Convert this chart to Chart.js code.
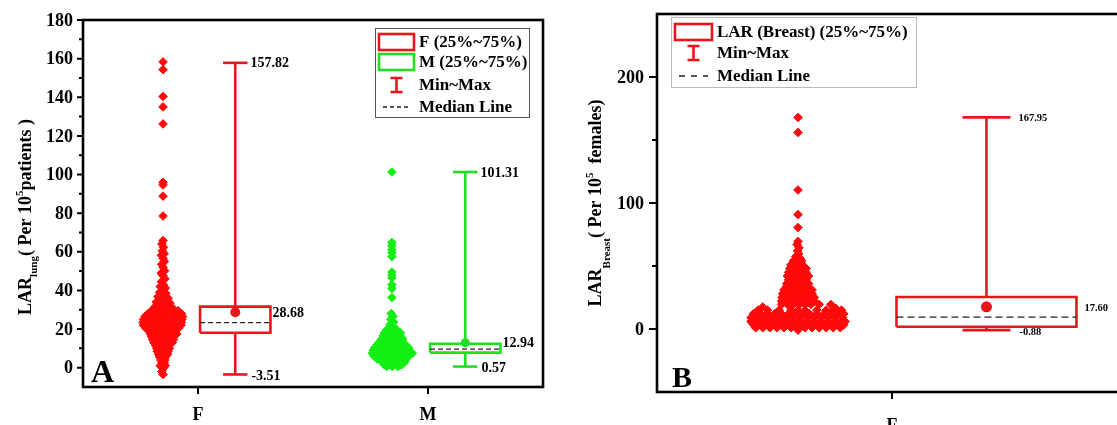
<!DOCTYPE html>
<html>
<head>
<meta charset="utf-8">
<script src="https://cdn.jsdelivr.net/npm/chart.js@4"></script>
<style>
html, body { margin: 0; padding: 0; background: #fff; overflow: hidden; width: 1117px; height: 425px; }
#wa { position: absolute; left: 0; top: 0; }
#wb { position: absolute; left: 560px; top: 0; }
</style>
</head>
<body>
<div id="wa"><canvas id="chartA" width="560" height="425"></canvas></div>
<div id="wb"><canvas id="chartB" width="580" height="425"></canvas></div>
<script>
/* ------------------------------- datos A ------------------------------- */
const lungCategories = ['F', 'M'];
const lungMin = [-3.51, 0.57];
const lungQ1 = [18.1, 7.8];
const lungMedian = [23.3, 9.6];
const lungQ3 = [31.6, 12.4];
const lungMax = [157.82, 101.31];
const lungMean = [28.68, 12.94];
const lungTicks = [0, 20, 40, 60, 80, 100, 120, 140, 160, 180];
const lungMinorTicks = [10, 30, 50, 70, 90, 110, 130, 150, 170];

// [desplazamiento horizontal, valor]
const lungPointsF = [
  [0,158.3],[0,154.3],[0,140.4],[0,135.0],[0,126.2],[0,96.0],[0,94.6],[0,88.8],[0,78.5],
  [0,65.8],[-0.005,64.0],[0.002,62.3],[-0.003,60.5],[0.005,59.0],[-0.007,58.2],[0,56.6],[0.006,55.0],[-0.006,53.5],[0,52.0],[0.007,50.2],[-0.008,49.0],[0,47.6],[0.008,46.0],[-0.007,44.5],[0.002,43.0],[-0.012,42.0],[0.01,41.2],[-0.003,40.0],
  [-0.015,39.0],[0.012,38.5],[0,37.6],[-0.022,36.8],[0.022,36.0],[-0.007,35.4],[0.008,34.8],[-0.03,34.0],[0.03,33.5],[-0.015,33.0],[0.015,32.4],[0,31.8],[-0.038,31.2],[0.04,31.0],[-0.022,30.4],[0.022,30.2],
  [-0.05,29.5],[-0.02,29.5],[0.01,29.5],[0.04,29.5],[0.065,29.5],
  [-0.065,28],[-0.035,28],[-0.005,28],[0.025,28],[0.055,28],[0.08,28],
  [-0.078,26.5],[-0.05,26.5],[-0.02,26.5],[0.01,26.5],[0.04,26.5],[0.07,26.5],[0.085,26.5],
  [-0.085,25],[-0.06,25],[-0.03,25],[0,25],[0.03,25],[0.06,25],[0.082,25],
  [-0.087,23.5],[-0.06,23.5],[-0.032,23.5],[-0.003,23.5],[0.025,23.5],[0.055,23.5],[0.08,23.5],
  [-0.085,22],[-0.055,22],[-0.025,22],[0.005,22],[0.035,22],[0.065,22],[0.078,22],
  [-0.075,20.5],[-0.05,20.5],[-0.02,20.5],[0.01,20.5],[0.04,20.5],[0.068,20.5],
  [-0.06,19],[-0.03,19],[0,19],[0.03,19],[0.055,19],
  [-0.055,17.5],[-0.025,17.5],[0.005,17.5],[0.035,17.5],[0.06,17.5],
  [-0.05,16],[-0.02,16],[0.01,16],[0.04,16],
  [-0.045,14.5],[-0.015,14.5],[0.015,14.5],[0.045,14.5],
  [-0.04,13],[-0.01,13],[0.02,13],[0.04,13],
  [-0.032,11.5],[-0.005,11.5],[0.022,11.5],
  [-0.028,10],[0,10],[0.028,10],
  [-0.025,8.5],[0.002,8.5],[0.022,8.5],
  [-0.02,7],[0.005,7],[0.02,7],
  [-0.015,5.5],[0.01,5.5],
  [-0.01,4],[0.008,4],[-0.005,2.5],[0.005,2.5],[-0.012,1],[0.01,1],[0,-0.5],[-0.005,-2],[0,-3.5]
];

const lungPointsM = [
  [0,101.3],[0,64.8],[0,63.0],[0,61.0],[0,59.5],[0,57.5],[0,49.5],[0,48.0],[0,46.5],[0,43.0],[0,41.0],[0,36.3],
  [-0.003,28.0],[0.005,26.5],[-0.005,25.0],[0.007,23.6],[-0.008,22.3],[0.009,21.0],
  [-0.023,19.5],[0.002,19.5],[0.022,19.5],
  [-0.033,18],[-0.008,18],[0.017,18],[0.037,18],
  [-0.038,16.5],[-0.013,16.5],[0.012,16.5],[0.035,16.5],
  [-0.043,15],[-0.018,15],[0.007,15],[0.032,15],[0.047,15],
  [-0.053,13.5],[-0.028,13.5],[-0.003,13.5],[0.022,13.5],[0.047,13.5],
  [-0.063,12],[-0.038,12],[-0.013,12],[0.012,12],[0.037,12],[0.057,12],
  [-0.073,10.5],[-0.048,10.5],[-0.023,10.5],[0.002,10.5],[0.027,10.5],[0.052,10.5],[0.072,10.5],
  [-0.081,9],[-0.053,9],[-0.028,9],[-0.003,9],[0.022,9],[0.047,9],[0.077,9],
  [-0.085,7.5],[-0.058,7.5],[-0.033,7.5],[-0.008,7.5],[0.017,7.5],[0.042,7.5],[0.067,7.5],[0.089,7.5],
  [-0.078,6],[-0.053,6],[-0.028,6],[-0.003,6],[0.022,6],[0.047,6],[0.072,6],
  [-0.063,4.5],[-0.038,4.5],[-0.013,4.5],[0.012,4.5],[0.037,4.5],[0.062,4.5],
  [-0.043,3],[-0.018,3],[0.007,3],[0.032,3],[0.057,3],
  [-0.033,1.5],[-0.008,1.5],[0.017,1.5],[0.042,1.5],
  [-0.023,0.6],[0.002,0.6],[0.027,0.6]
];

/* ------------------------------- datos B ------------------------------- */
const breastCategories = ['F'];
const breastMin = [-0.88];
const breastQ1 = [1.8];
const breastMedian = [9.5];
const breastQ3 = [25.4];
const breastMax = [167.95];
const breastMean = [17.60];
const breastTicks = [0, 100, 200];
const breastMinorTicks = [50, 150];

const breastPoints = [
  [0,167.9],[0,156.0],[0,110.3],[0,90.8],[0,80.5],
  [0,69.5],[-0.004,67.0],[0.004,64.5],[-0.002,62.0],[0.003,59.5],[-0.01,57.5],[0.009,56.0],
  [-0.02,54],[0.015,54],[-0.03,51],[-0.005,51],[0.02,51],[-0.035,48],[-0.01,48],[0.015,48],[0.035,48],
  [-0.04,45],[-0.015,45],[0.01,45],[0.035,45],[-0.045,42],[-0.02,42],[0.005,42],[0.03,42],[0.045,42],
  [-0.04,39],[-0.015,39],[0.01,39],[0.035,39],[-0.048,36],[-0.025,36],[0,36],[0.025,36],[0.045,36],
  [-0.05,33.5],[-0.03,33.5],[-0.005,33.5],[0.02,33.5],[0.04,33.5],
  [-0.06,31],[-0.035,31],[-0.01,31],[0.015,31],[0.04,31],[0.06,31],
  [-0.065,28],[-0.04,28],[-0.015,28],[0.01,28],[0.035,28],[0.06,28],
  [-0.068,25],[-0.045,25],[-0.02,25],[0.005,25],[0.03,25],[0.055,25],[0.07,25],
  [-0.07,22],[-0.045,22],[-0.02,22],[0.005,22],[0.03,22],[0.055,22],[0.07,22],
  [-0.07,19.5],[-0.045,19.5],[-0.02,19.5],[0.005,19.5],[0.03,19.5],[0.055,19.5],[0.09,19.5],[0.14,19.5],
  [-0.15,17.5],[0.16,16.5],[0.18,14],
  [-0.17,15],[-0.13,15],[-0.08,15],[-0.03,15],[0,15],[0.03,15],[0.08,15],[0.12,15],[0.15,15],[0.185,15],
  [-0.19,12],[-0.16,12],[-0.13,12],[-0.10,12],[-0.07,12],[-0.04,12],[-0.01,12],[0.02,12],[0.05,12],[0.08,12],[0.11,12],[0.14,12],[0.17,12],[0.195,12],
  [-0.20,9],[-0.17,9],[-0.14,9],[-0.11,9],[-0.08,9],[-0.05,9],[-0.02,9],[0.01,9],[0.04,9],[0.07,9],[0.10,9],[0.13,9],[0.16,9],[0.19,9],
  [-0.20,6],[-0.175,6],[-0.145,6],[-0.115,6],[-0.085,6],[-0.055,6],[-0.025,6],[0.005,6],[0.035,6],[0.065,6],[0.095,6],[0.125,6],[0.155,6],[0.185,6],[0.20,6],
  [-0.19,3.5],[-0.16,3.5],[-0.13,3.5],[-0.10,3.5],[-0.07,3.5],[-0.04,3.5],[-0.01,3.5],[0.02,3.5],[0.05,3.5],[0.08,3.5],[0.11,3.5],[0.14,3.5],[0.17,3.5],[0.195,3.5],
  [-0.18,1],[-0.15,1],[-0.12,1],[-0.09,1],[-0.06,1],[-0.03,1],[0,1],[0.03,1],[0.06,1],[0.09,1],[0.12,1],[0.15,1],[0.18,1],
  [0,-0.88]
];

/* ------------------------------- estilos ------------------------------- */
const SERIF = '"Liberation Serif", "DejaVu Serif", serif';
const RED = '#e8161b', RED_PT = '#ff0a0a';
const GREEN = '#22dd22', GREEN_PT = '#14ee14';

function font(size) { return `bold ${size}px ${SERIF}`; }

function puntos(lista, centro, color) {
  return {
    data: lista.map(p => ({ x: centro + p[0], y: p[1] })),
    backgroundColor: color, borderColor: color, borderWidth: 1,
    pointStyle: 'rectRot', pointRadius: 4.3
  };
}

function linea(pts, color, ancho, dash) {
  return {
    data: pts, showLine: true, pointRadius: 0, fill: false, tension: 0,
    borderColor: color, borderWidth: ancho, borderDash: dash || [], borderCapStyle: 'butt'
  };
}

// caja, bigotes, mediana y media de una serie
function caja(xc, half, cap, lo, q1, med, q3, hi, mean, color, meanR, dash) {
  return [
    { data: [{ x: xc, y: mean }], backgroundColor: color, borderWidth: 0, pointStyle: 'circle', pointRadius: meanR },
    linea([{ x: xc - half, y: med }, { x: xc + half, y: med }], '#222', 1.3, dash),
    linea([{ x: xc - half, y: q1 }, { x: xc + half, y: q1 }, { x: xc + half, y: q3 }, { x: xc - half, y: q3 }, { x: xc - half, y: q1 }], color, 2.6),
    linea([{ x: xc, y: q3 }, { x: xc, y: hi }], color, 2.6),
    linea([{ x: xc, y: lo }, { x: xc, y: q1 }], color, 2.6),
    linea([{ x: xc - cap, y: hi }, { x: xc + cap, y: hi }], color, 2.6),
    linea([{ x: xc - cap, y: lo }, { x: xc + cap, y: lo }], color, 2.6)
  ];
}

function tituloY(ctx, cx, cy, partes) {
  ctx.save();
  ctx.translate(cx, cy);
  ctx.rotate(-Math.PI / 2);
  let total = 0;
  partes.forEach(r => { ctx.font = font(r.size); r.w = ctx.measureText(r.text).width; total += r.w; });
  let x = -total / 2;
  ctx.textAlign = 'left';
  ctx.textBaseline = 'alphabetic';
  partes.forEach(r => { ctx.font = font(r.size); ctx.fillText(r.text, x, r.dy || 0); x += r.w; });
  ctx.restore();
}

function panelPlugin(p) {
  return {
    id: 'panel',
    afterDraw(chart) {
      const ctx = chart.ctx, a = chart.chartArea, xs = chart.scales.x, ys = chart.scales.y;
      ctx.save();
      ctx.fillStyle = '#000';
      ctx.strokeStyle = '#000';
      // marco
      ctx.lineWidth = 2.6;
      ctx.strokeRect(a.left, a.top, a.right - a.left, a.bottom - a.top);
      // marcas del eje y
      ctx.lineWidth = 2;
      ctx.beginPath();
      p.yTicks.forEach(v => { const y = ys.getPixelForValue(v); ctx.moveTo(a.left - p.major, y); ctx.lineTo(a.left, y); });
      p.yMinor.forEach(v => { const y = ys.getPixelForValue(v); ctx.moveTo(a.left - p.minor, y); ctx.lineTo(a.left, y); });
      p.catX.forEach(v => { const x = xs.getPixelForValue(v); ctx.moveTo(x, a.bottom); ctx.lineTo(x, a.bottom + 7); });
      ctx.stroke();
      ctx.font = font(p.tickSize);
      ctx.textAlign = 'right';
      ctx.textBaseline = 'middle';
      p.yTicks.forEach(v => ctx.fillText(String(v), a.left - p.labelGap, ys.getPixelForValue(v) + 1));
      ctx.textAlign = 'center';
      ctx.textBaseline = 'alphabetic';
      p.cats.forEach((c, i) => ctx.fillText(c, xs.getPixelForValue(p.catX[i]), p.catBaseline));
      // titulo y letra
      tituloY(ctx, p.titleX, p.titleY, p.title);
      ctx.font = font(p.letterSize);
      ctx.textAlign = 'left';
      ctx.fillText(p.letter, p.letterX, a.bottom - 5);
      // etiquetas de valores
      ctx.font = font(p.valSize);
      ctx.textBaseline = 'middle';
      p.boxes.forEach(b => {
        const xc = xs.getPixelForValue(b.x + b.cap) + p.valGap;
        const xb = xs.getPixelForValue(b.x + b.half) + p.meanGap;
        ctx.fillText(b.hi.toFixed(2), xc, ys.getPixelForValue(b.hi) + 1);
        ctx.fillText(b.lo.toFixed(2), xc + 1, ys.getPixelForValue(b.lo) + 2);
        ctx.fillText(b.mean.toFixed(2), xb, ys.getPixelForValue(b.mean) + 1);
      });
      // leyenda
      const L = p.legend;
      ctx.lineWidth = 1;
      ctx.strokeStyle = L.border;
      ctx.strokeRect(L.x + 0.5, L.y + 0.5, L.w, L.h);
      ctx.font = font(L.size);
      ctx.textAlign = 'left';
      ctx.textBaseline = 'middle';
      L.rows.forEach(r => {
        ctx.strokeStyle = r.color;
        if (r.kind === 'box') {
          ctx.lineWidth = 2.6;
          ctx.strokeRect(L.x + 4, r.y - 8, L.sw, 16);
        } else if (r.kind === 'minmax') {
          const cx = L.x + 4 + L.sw / 2;
          ctx.lineWidth = 2.6;
          ctx.beginPath();
          ctx.moveTo(cx, r.y - 7); ctx.lineTo(cx, r.y + 7);
          ctx.moveTo(cx - 6, r.y - 7); ctx.lineTo(cx + 6, r.y - 7);
          ctx.moveTo(cx - 6, r.y + 7); ctx.lineTo(cx + 6, r.y + 7);
          ctx.stroke();
        } else {
          ctx.lineWidth = 1.3;
          ctx.setLineDash(L.dash);
          ctx.beginPath();
          ctx.moveTo(L.x + 8, r.y); ctx.lineTo(L.x + L.sw, r.y);
          ctx.stroke();
          ctx.setLineDash([]);
        }
        ctx.fillText(r.text, L.x + L.sw + 9, r.y + 1);
      });
      ctx.restore();
    }
  };
}

function opciones(pad, ymin, ymax) {
  return {
    responsive: false, animation: false, events: [],
    layout: { padding: pad },
    plugins: { legend: { display: false }, tooltip: { enabled: false } },
    scales: {
      x: { type: 'linear', display: false, min: 0, max: 2 },
      y: { type: 'linear', display: false, min: ymin, max: ymax }
    }
  };
}

/* ------------------------------- grafico A ------------------------------- */
const lungX = [0.5, 1.5];
const lungColors = [RED, GREEN];
const lungPtColors = [RED_PT, GREEN_PT];
let dsA = [];
lungCategories.forEach((c, i) => {
  dsA = dsA.concat(caja(lungX[i] + 0.162, 0.153, 0.053, lungMin[i], lungQ1[i], lungMedian[i], lungQ3[i], lungMax[i], lungMean[i], lungColors[i], i === 0 ? 5 : 4.5, [5, 3]));
});
dsA.push(puntos(lungPointsF, lungX[0] - 0.152, lungPtColors[0]));
dsA.push(puntos(lungPointsM, lungX[1] - 0.157, lungPtColors[1]));

new Chart(document.getElementById('chartA'), {
  type: 'scatter',
  data: { datasets: dsA },
  options: opciones({ left: 83, top: 20, right: 17, bottom: 38 }, -10, 180),
  plugins: [panelPlugin({
    yTicks: lungTicks, yMinor: lungMinorTicks, major: 6, minor: 4, labelGap: 10, tickSize: 18,
    cats: lungCategories, catX: lungX, catBaseline: 420,
    title: [
      { text: 'LAR', size: 18 }, { text: 'lung', size: 11, dy: 6 },
      { text: '( Per 10', size: 18 }, { text: '5', size: 11, dy: -8 }, { text: 'patients )', size: 18 }
    ],
    titleX: 31, titleY: 217,
    letter: 'A', letterSize: 32, letterX: 91,
    valSize: 14, valGap: 3, meanGap: 2,
    boxes: lungCategories.map((c, i) => ({ x: lungX[i] + 0.162, half: 0.153, cap: 0.053, hi: lungMax[i], lo: lungMin[i], mean: lungMean[i] })),
    legend: {
      x: 375, y: 28, w: 154, h: 89, sw: 35, size: 17, border: '#555', dash: [4, 3],
      rows: [
        { kind: 'box', color: RED, text: lungCategories[0] + ' (25%~75%)', y: 42 },
        { kind: 'box', color: GREEN, text: lungCategories[1] + ' (25%~75%)', y: 62 },
        { kind: 'minmax', color: RED, text: 'Min~Max', y: 85 },
        { kind: 'median', color: '#222', text: 'Median Line', y: 107 }
      ]
    }
  })]
});

/* ------------------------------- grafico B ------------------------------- */
const breastX = [1.0];
let dsB = caja(breastX[0] + 0.402, 0.383, 0.102, breastMin[0], breastQ1[0], breastMedian[0], breastQ3[0], breastMax[0], breastMean[0], RED, 5.5, [7, 4]);
dsB.push(puntos(breastPoints, breastX[0] - 0.4, RED_PT));

new Chart(document.getElementById('chartB'), {
  type: 'scatter',
  data: { datasets: dsB },
  options: opciones({ left: 97, top: 14, right: 13, bottom: 33 }, -50, 250),
  plugins: [panelPlugin({
    yTicks: breastTicks, yMinor: breastMinorTicks, major: 8, minor: 5, labelGap: 13, tickSize: 18,
    cats: breastCategories, catX: breastX, catBaseline: 431,
    title: [
      { text: 'LAR', size: 18 }, { text: 'Breast', size: 11, dy: 9 },
      { text: '( Per 10', size: 18 }, { text: '5', size: 11, dy: -8 }, { text: '  females)', size: 18 }
    ],
    titleX: 41, titleY: 203,
    letter: 'B', letterSize: 30, letterX: 112,
    valSize: 10.5, valGap: 8, meanGap: 8,
    boxes: [{ x: breastX[0] + 0.402, half: 0.383, cap: 0.102, hi: breastMax[0], lo: breastMin[0], mean: breastMean[0] }],
    legend: {
      x: 111, y: 17, w: 245, h: 70, sw: 37, size: 17, border: '#bbb', dash: [6, 6],
      rows: [
        { kind: 'box', color: RED, text: 'LAR (Breast) (25%~75%)', y: 32 },
        { kind: 'minmax', color: RED, text: 'Min~Max', y: 53 },
        { kind: 'median', color: '#222', text: 'Median Line', y: 76 }
      ]
    }
  })]
});
</script>
</body>
</html>
